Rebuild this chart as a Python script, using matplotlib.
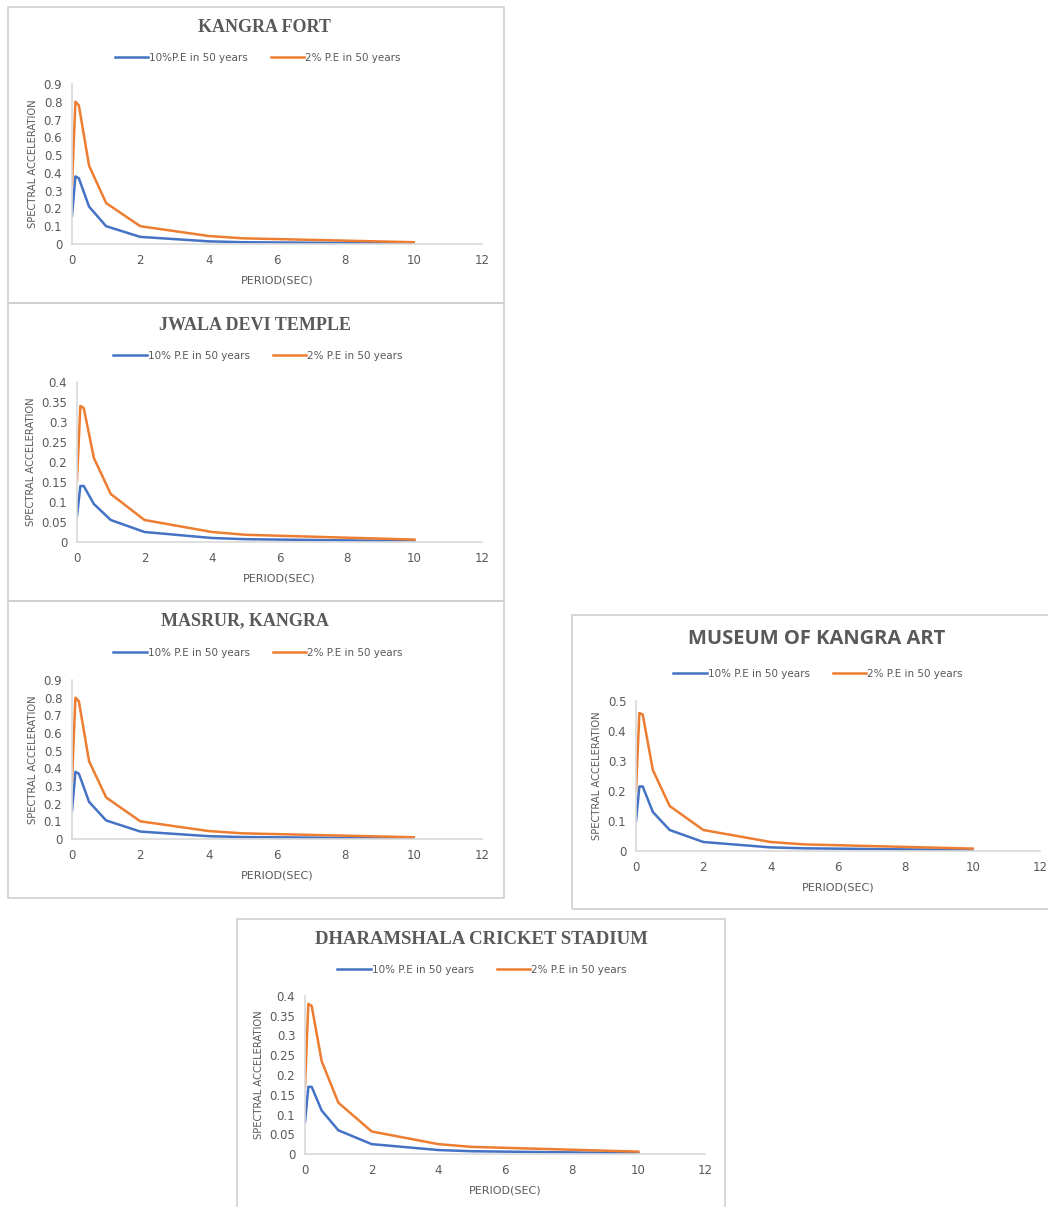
import matplotlib.pyplot as plt
from matplotlib.patches import Rectangle
from matplotlib.ticker import FuncFormatter

"""Uniform hazard spectra (10% and 2% P.E in 50 years) for five sites in Kangra."""

W, H = 1048, 1207

period = [0, 0.1, 0.2, 0.5, 1, 2, 4, 5, 10]

# spectral acceleration (g) per site
kangra_fort_10 = [0.16, 0.38, 0.37, 0.21, 0.10, 0.04, 0.015, 0.010, 0.003]
kangra_fort_2 = [0.33, 0.80, 0.78, 0.44, 0.23, 0.10, 0.045, 0.032, 0.010]

jwala_10 = [0.065, 0.14, 0.14, 0.095, 0.055, 0.025, 0.010, 0.007, 0.002]
jwala_2 = [0.155, 0.34, 0.335, 0.21, 0.12, 0.055, 0.025, 0.018, 0.006]

masrur_10 = [0.16, 0.38, 0.37, 0.21, 0.105, 0.042, 0.016, 0.011, 0.003]
masrur_2 = [0.33, 0.80, 0.78, 0.44, 0.235, 0.10, 0.045, 0.032, 0.010]

museum_10 = [0.10, 0.215, 0.215, 0.13, 0.07, 0.03, 0.012, 0.009, 0.003]
museum_2 = [0.20, 0.46, 0.455, 0.27, 0.15, 0.07, 0.030, 0.022, 0.008]

dharamshala_10 = [0.08, 0.17, 0.17, 0.11, 0.06, 0.025, 0.010, 0.007, 0.002]
dharamshala_2 = [0.17, 0.38, 0.375, 0.235, 0.13, 0.057, 0.025, 0.018, 0.006]

titles = ["KANGRA FORT", "JWALA DEVI TEMPLE", "MASRUR, KANGRA",
          "MUSEUM OF KANGRA ART", "DHARAMSHALA CRICKET STADIUM"]
labels_10 = ["10%P.E in 50 years", "10% P.E in 50 years", "10% P.E in 50 years",
             "10% P.E in 50 years", "10% P.E in 50 years"]
labels_2 = ["2% P.E in 50 years"] * 5
series_10 = [kangra_fort_10, jwala_10, masrur_10, museum_10, dharamshala_10]
series_2 = [kangra_fort_2, jwala_2, masrur_2, museum_2, dharamshala_2]
y_max = [0.9, 0.4, 0.9, 0.5, 0.4]
y_step = [0.1, 0.05, 0.1, 0.1, 0.05]

# layout in pixels: panel box (x0, y0, x1, y1), axes (left, top, right, bottom),
# title centre, legend centre
boxes = [(8, 7, 504, 303), (8, 303, 504, 601), (8, 601, 504, 898),
         (572, 615, 1060, 909), (237, 919, 725, 1220)]
axes_px = [(72, 84, 482, 244), (77, 382, 482, 542), (72, 680, 482, 839),
           (636, 701, 1040, 851), (305, 996, 705, 1154)]
title_pos = [(264, 28), (255, 325), (245, 621), (817, 639), (481, 940)]
legend_pos = [(258, 58), (258, 356), (258, 653), (818, 674), (482, 970)]
title_font = ["Liberation Serif", "Liberation Serif", "Liberation Serif",
              "Open Sans", "Liberation Serif"]
title_size = [13, 13, 13, 14.5, 13.5]

blue = "#4472C4"
orange = "#ED7D31"
grey = "#595959"
spine = "#D9D9D9"

fig = plt.figure(figsize=(W / 100, H / 100), dpi=100)
fig.patch.set_facecolor("white")

fmt = FuncFormatter(lambda v, p: f"{v:g}")

for i in range(5):
    bx0, by0, bx1, by1 = boxes[i]
    fig.patches.append(Rectangle((bx0 / W, 1 - by1 / H), (bx1 - bx0) / W, (by1 - by0) / H,
                                 transform=fig.transFigure, fill=False,
                                 edgecolor="#D0D0D0", linewidth=1.2))

    l, t, r, b = axes_px[i]
    ax = fig.add_axes([l / W, 1 - b / H, (r - l) / W, (b - t) / H])
    ax.plot(period, series_10[i], color=blue, lw=1.8, label=labels_10[i])
    ax.plot(period, series_2[i], color=orange, lw=1.8, label=labels_2[i])

    ax.set_xlim(0, 12)
    ax.set_ylim(0, y_max[i])
    ax.set_xticks(range(0, 13, 2))
    n = int(round(y_max[i] / y_step[i]))
    ax.set_yticks([round(k * y_step[i], 2) for k in range(n + 1)])
    ax.yaxis.set_major_formatter(fmt)
    ax.tick_params(length=0, labelsize=8.5, labelcolor=grey, pad=7)
    for s in ["top", "right"]:
        ax.spines[s].set_visible(False)
    for s in ["left", "bottom"]:
        ax.spines[s].set_color(spine)
        ax.spines[s].set_linewidth(1.2)

    ax.set_xlabel("PERIOD(SEC)", fontsize=8, color=grey, labelpad=6)
    ax.set_ylabel("SPECTRAL ACCELERATION", fontsize=7.2, color=grey, labelpad=4)

    tx, ty = title_pos[i]
    fig.text(tx / W, 1 - ty / H, titles[i], ha="center", va="center",
             fontsize=title_size[i], fontweight="bold", color=grey, family=title_font[i])

    lx, ly = legend_pos[i]
    ax.legend(loc="center", bbox_to_anchor=(lx / W, 1 - ly / H),
              bbox_transform=fig.transFigure, ncol=2, frameon=False,
              fontsize=7.5, labelcolor=grey, handlelength=3.2,
              handletextpad=0.1, columnspacing=2.2)

plt.savefig("out.png", dpi=100, facecolor="white")
plt.close()
